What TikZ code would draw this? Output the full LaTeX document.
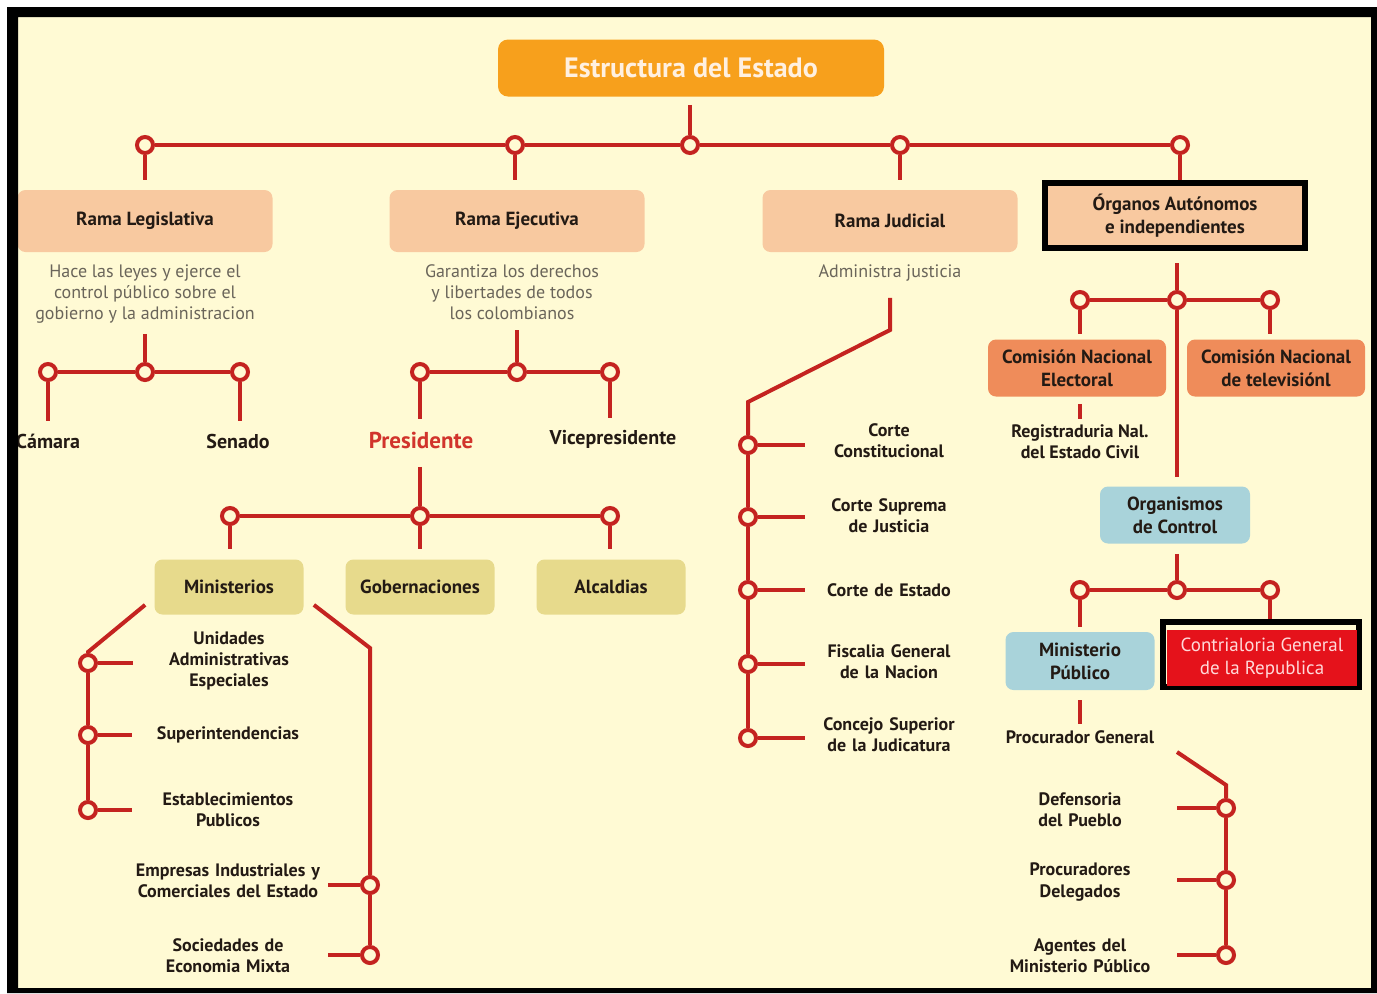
\documentclass[tikz,border=0pt]{standalone}
\usepackage{fontspec}
\setmainfont{PT Sans}
\usepackage{tikz}
\usetikzlibrary{positioning}
\definecolor{cream}{HTML}{FFFAD4}
\definecolor{wirered}{HTML}{C42320}
\definecolor{titleorange}{HTML}{F7A01C}
\definecolor{peach}{HTML}{F8C9A0}
\definecolor{khaki}{HTML}{E7DA8C}
\definecolor{coral}{HTML}{EF8C5A}
\definecolor{skyblue}{HTML}{A9D3DA}
\definecolor{alertred}{HTML}{E5121B}
\definecolor{darktext}{HTML}{231A14}
\definecolor{greytext}{HTML}{6A655A}
\definecolor{presred}{HTML}{D1342C}

\begin{document}
\begin{tikzpicture}[
  x=0.5pt,y=-0.5pt,
  wire/.style={draw=wirered,line width=2pt},
  pin/.style={circle,draw=wirered,line width=2pt,fill=cream,minimum size=8pt,inner sep=0pt},
  titlebox/.style={rounded corners=5pt,fill=titleorange,minimum width=193pt,minimum height=28.5pt,text=white!88!orange,font=\fontsize{14}{16}\selectfont\bfseries},
  branch/.style={rounded corners=4pt,align=center,minimum width=127.5pt,minimum height=31pt,fill=peach,text=darktext,font=\fontsize{9.5}{11.5}\selectfont\bfseries},
  framed/.style={draw=black,line width=3pt,align=center,minimum width=130pt,minimum height=32.5pt,fill=peach,text=darktext,font=\fontsize{9.5}{11.5}\selectfont\bfseries},
  local/.style={rounded corners=4pt,align=center,minimum width=74.5pt,minimum height=27.5pt,fill=khaki,text=darktext,font=\fontsize{9.5}{11.5}\selectfont\bfseries},
  agency/.style={rounded corners=4pt,align=center,minimum width=89pt,minimum height=28.5pt,fill=coral,text=darktext,font=\fontsize{9.5}{11.5}\selectfont\bfseries},
  skybox/.style={rounded corners=4pt,align=center,minimum width=75pt,minimum height=28.5pt,fill=skyblue,text=darktext,font=\fontsize{9.5}{11.5}\selectfont\bfseries},
  alertbox/.style={align=center,minimum width=95pt,minimum height=28pt,fill=alertred,text=white!85!red,font=\fontsize{9.5}{11.5}\selectfont},
  blackframe/.style={draw=black,line width=3pt,fill=cream},
  desc/.style={align=center,inner sep=0pt,text=greytext,font=\fontsize{9}{10.5}\selectfont},
  leaf/.style={align=center,inner sep=0pt,text=darktext,font=\fontsize{9}{10.5}\selectfont\bfseries},
  bigleaf/.style={leaf,font=\fontsize{10}{12}\selectfont\bfseries}
]
\useasboundingbox (0,0) rectangle (1377,993);
\fill[white] (0,0) rectangle (1377,993);
\fill[cream] (18,17) rectangle (1371,988);

% top of the tree
\node[titlebox] (estado) at (691,68) {Estructura del Estado};
\node[pin] (p-leg) at (145,145) {};
\node[pin] (p-eje) at (515,145) {};
\node[pin] (p-top) at (690,145) {};
\node[pin] (p-jud) at (900,145) {};
\node[pin] (p-org) at (1180,145) {};
\draw[wire,shorten <=4pt] (estado.south -| p-top) -- (p-top);
\draw[wire] (p-leg) -- (p-eje) -- (p-top) -- (p-jud) -- (p-org);

\node[branch] (leg) at (145,221) {Rama Legislativa};
\node[branch] (eje) at (517,221) {Rama Ejecutiva};
\node[branch] (jud) at (890,221) {Rama Judicial};
\node[framed] (org) at (1175,215.5) {Órganos Autónomos\\e independientes};
\draw[wire,shorten >=5pt] (p-leg) -- (p-leg |- leg.north);
\draw[wire,shorten >=5pt] (p-eje) -- (p-eje |- eje.north);
\draw[wire,shorten >=5pt] (p-jud) -- (p-jud |- jud.north);
\draw[wire] (p-org) -- (p-org |- org.north);

\node[desc,below=6pt of leg] (leg-txt) {Hace las leyes y ejerce el\\control público sobre el\\gobierno y la administracion};
\node[desc,below=6pt of eje,xshift=-2.5pt] (eje-txt) {Garantiza los derechos\\y libertades de todos\\los colombianos};
\node[desc,below=6pt of jud] (jud-txt) {Administra justicia};

% rama legislativa
\node[pin] (l-mid) at (145,372) {};
\node[pin] (l-cam) at (48,372) {};
\node[pin] (l-sen) at (240,372) {};
\node[bigleaf] (camara) at (48,441) {Cámara};
\node[bigleaf] (senado) at (238,441) {Senado};
\draw[wire,shorten <=5pt] (leg-txt.south -| l-mid) -- (l-mid);
\draw[wire] (l-cam) -- (l-mid) -- (l-sen);
\draw[wire,shorten >=6pt] (l-cam) -- (l-cam |- camara.north);
\draw[wire,shorten >=6pt] (l-sen) -- (l-sen |- senado.north);

% rama ejecutiva
\node[pin] (e-mid) at (517,372) {};
\node[pin] (e-pre) at (420,372) {};
\node[pin] (e-vic) at (610,372) {};
\node[bigleaf,text=presred,font=\fontsize{11.5}{13}\selectfont\bfseries] (presidente) at (421,440) {Presidente};
\node[bigleaf] (vice) at (613,439) {Vicepresidente};
\draw[wire,shorten <=5pt] (eje-txt.south -| e-mid) -- (e-mid);
\draw[wire] (e-pre) -- (e-mid) -- (e-vic);
\draw[wire,shorten >=6pt] (e-pre) -- (e-pre |- presidente.north);
\draw[wire,shorten >=6pt] (e-vic) -- (e-vic |- vice.north);

\node[pin] (g-mid) at (420,516) {};
\node[pin] (g-min) at (230,516) {};
\node[pin] (g-alc) at (610,516) {};
\draw[wire,shorten <=9pt] (presidente.south -| g-mid) -- (g-mid);
\draw[wire] (g-min) -- (g-mid) -- (g-alc);
\node[local] (minis) at (229,587) {Ministerios};
\node[local] (gober) at (420,587) {Gobernaciones};
\node[local] (alcal) at (611,587) {Alcaldias};
\draw[wire,shorten >=5pt] (g-min) -- (g-min |- minis.north);
\draw[wire,shorten >=5pt] (g-mid) -- (g-mid |- gober.north);
\draw[wire,shorten >=5pt] (g-alc) -- (g-alc |- alcal.north);

% ministerios
\coordinate (m-knee-l) at (88,652);
\node[pin] (u-pin) at (88,663) {};
\node[pin] (s-pin) at (88,735) {};
\node[pin] (est-pin) at (88,810) {};
\draw[wire] ([shift={(-4.5pt,5pt)}]minis.south west) -- (m-knee-l) -- (u-pin);
\draw[wire] (u-pin) -- (s-pin);
\draw[wire] (s-pin) -- (est-pin);
\node[leaf,text width=96pt] (unidades) at (229,661) {Unidades\\Administrativas\\Especiales};
\node[leaf,text width=96pt] (superint) at (228,735) {Superintendencias};
\node[leaf,text width=96pt] (establec) at (228,810) {Establecimientos\\Publicos};
\draw[wire] (u-pin) -- (u-pin -| unidades.west);
\draw[wire] (s-pin) -- (s-pin -| superint.west);
\draw[wire] (est-pin) -- (est-pin -| establec.west);

\coordinate (m-knee-r) at (370,648);
\node[pin] (emp-pin) at (370,885) {};
\node[pin] (soc-pin) at (370,955) {};
\draw[wire] ([shift={(5pt,5pt)}]minis.south east) -- (m-knee-r) -- (emp-pin);
\draw[wire] (emp-pin) -- (soc-pin);
\node[leaf,text width=100pt] (empresas) at (228,881) {Empresas Industriales y\\Comerciales del Estado};
\node[leaf,text width=100pt] (sociedades) at (228,956) {Sociedades de\\Economia Mixta};
\draw[wire] (emp-pin) -- (emp-pin -| empresas.east);
\draw[wire] (soc-pin) -- (soc-pin -| sociedades.east);

% rama judicial
\coordinate (j-knee-a) at (890,330);
\coordinate (j-knee-b) at (748,402);
\node[pin] (c1-pin) at (748,445) {};
\node[pin] (c2-pin) at (748,517) {};
\node[pin] (c3-pin) at (748,590) {};
\node[pin] (c4-pin) at (748,664) {};
\node[pin] (c5-pin) at (748,738) {};
\draw[wire,shorten <=8pt] (jud-txt.south -| j-knee-a) -- (j-knee-a) -- (j-knee-b) -- (c1-pin);
\draw[wire] (c1-pin) -- (c2-pin);
\draw[wire] (c2-pin) -- (c3-pin);
\draw[wire] (c3-pin) -- (c4-pin);
\draw[wire] (c4-pin) -- (c5-pin);
\node[leaf,text width=84pt] (constitucional) at (889,441) {Corte\\Constitucional};
\node[leaf,text width=84pt] (suprema) at (889,516) {Corte Suprema\\de Justicia};
\node[leaf,text width=84pt] (cestado) at (889,590) {Corte de Estado};
\node[leaf,text width=84pt] (fiscalia) at (889,662) {Fiscalia General\\de la Nacion};
\node[leaf,text width=84pt] (judicatura) at (889,735) {Concejo Superior\\de la Judicatura};
\draw[wire] (c1-pin) -- (c1-pin -| constitucional.west);
\draw[wire] (c2-pin) -- (c2-pin -| suprema.west);
\draw[wire] (c3-pin) -- (c3-pin -| cestado.west);
\draw[wire] (c4-pin) -- (c4-pin -| fiscalia.west);
\draw[wire] (c5-pin) -- (c5-pin -| judicatura.west);

% organos autonomos
\node[pin] (o-mid) at (1177,300) {};
\node[pin] (o-cne) at (1080,300) {};
\node[pin] (o-tv) at (1270,300) {};
\draw[wire,shorten <=6pt] (org.south -| o-mid) -- (o-mid);
\draw[wire] (o-cne) -- (o-mid) -- (o-tv);
\node[agency] (cne) at (1077,368) {Comisión Nacional\\Electoral};
\node[agency] (cntv) at (1276,368) {Comisión Nacional\\de televisiónl};
\draw[wire,shorten >=2.5pt] (o-cne) -- (o-cne |- cne.north);
\draw[wire,shorten >=2.5pt] (o-tv) -- (o-tv |- cntv.north);
\node[leaf] (regis) at (1080,442) {Registraduria Nal.\\del Estado Civil};
\draw[wire,shorten <=3.5pt,shorten >=3pt] (cne.south -| regis) -- (regis.north);
\node[skybox] (ctrl) at (1175,515) {Organismos\\de Control};
\draw[wire,shorten >=4.5pt] (o-mid) -- (o-mid |- ctrl.north);

% organismos de control
\node[pin] (k-mid) at (1177,590) {};
\node[pin] (k-min) at (1080,590) {};
\node[pin] (k-con) at (1270,590) {};
\draw[wire,shorten <=5pt] (ctrl.south -| k-mid) -- (k-mid);
\draw[wire] (k-min) -- (k-mid) -- (k-con);
\node[skybox,minimum width=74.5pt,minimum height=29pt] (minpub) at (1080,661) {Ministerio\\Público};
\draw[wire,shorten >=2.5pt] (k-min) -- (k-min |- minpub.north);
\node[blackframe,minimum width=98pt,minimum height=32.5pt] (contra-frame) at (1261,654.5) {};
\node[alertbox] (contra) at (1262,658) {Contrialoria General\\de la Republica};
\draw[wire] (k-con) -- (k-con |- contra-frame.north);

\node[leaf] (procu) at (1080,737) {Procurador General};
\draw[wire,shorten <=5pt,shorten >=3pt] (minpub.south -| procu) -- (procu.north);
\coordinate (pg-a) at (1177,752);
\coordinate (pg-b) at (1226,785);
\node[pin] (d-pin) at (1226,808) {};
\node[pin] (pd-pin) at (1226,880) {};
\node[pin] (a-pin) at (1226,955) {};
\draw[wire] (pg-a) -- (pg-b) -- (d-pin);
\draw[wire] (d-pin) -- (pd-pin);
\draw[wire] (pd-pin) -- (a-pin);
\node[leaf,text width=97pt] (defensoria) at (1080,810) {Defensoria\\del Pueblo};
\node[leaf,text width=97pt] (procuradores) at (1080,882) {Procuradores\\Delegados};
\node[leaf,text width=97pt] (agentes) at (1080,956) {Agentes del\\Ministerio Público};
\draw[wire] (d-pin) -- (d-pin -| defensoria.east);
\draw[wire] (pd-pin) -- (pd-pin -| procuradores.east);
\draw[wire] (a-pin) -- (a-pin -| agentes.east);

% black frame round the sheet
\fill[black,even odd rule] (7,7) rectangle (1377,993) (18,17) rectangle (1371,988);
\end{tikzpicture}
\end{document}
